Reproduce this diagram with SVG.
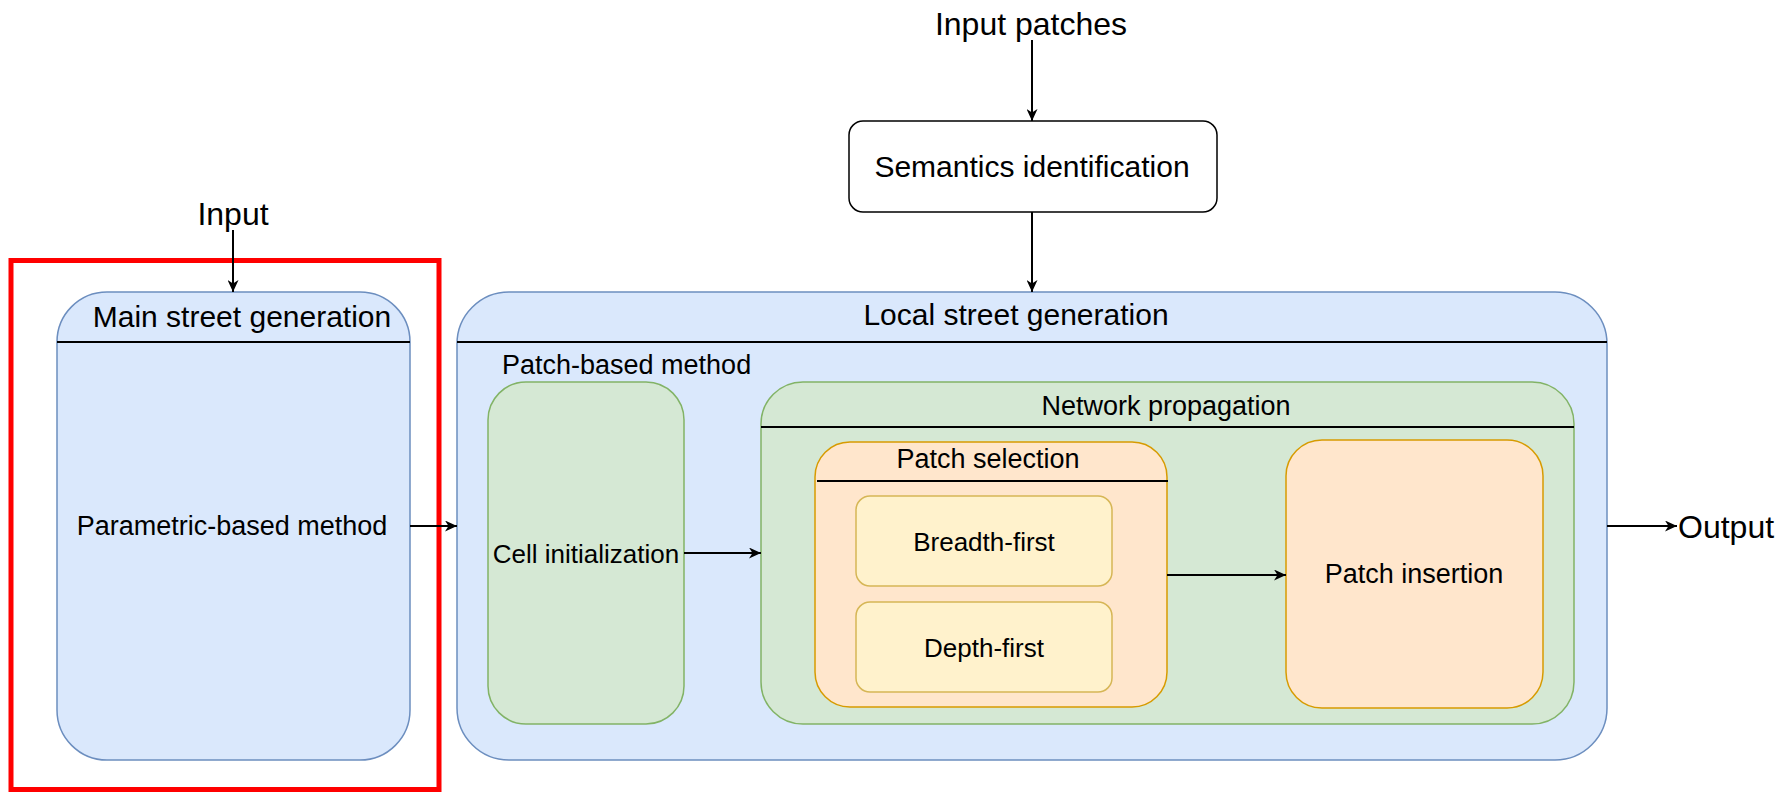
<svg xmlns="http://www.w3.org/2000/svg" width="1790" height="792" viewBox="0 0 1790 792">
<style>
text{font-family:"Liberation Sans",Arial,Helvetica,sans-serif;fill:#000}
.t32{font-size:32px}
.t30{font-size:30px}
.t27{font-size:27px}
.t26{font-size:26px}
.mid{text-anchor:middle}
.blue{fill:#dae8fc;stroke:#6c8ebf;stroke-width:1.5}
.green{fill:#d5e8d4;stroke:#82b366;stroke-width:1.5}
.orange{fill:#ffe6cc;stroke:#d79b00;stroke-width:1.5}
.yellow{fill:#fff2cc;stroke:#d6b656;stroke-width:1.5}
.hdr{stroke:#000;stroke-width:2;fill:none}
.edge{stroke:#000;stroke-width:2;fill:none;marker-end:url(#arr)}
</style>
<defs>
<marker id="arr" markerWidth="13" markerHeight="11" refX="12" refY="5.5" orient="auto" markerUnits="userSpaceOnUse">
<path d="M0,0 L12,5.5 L0,11 L3.5,5.5 z" fill="#000"/>
</marker>
</defs>
<rect width="1790" height="792" fill="#fff"/>

<g id="highlight">
<rect x="11" y="260.5" width="428" height="529" fill="none" stroke="#ff0000" stroke-width="5"/>
</g>

<g id="input-label"><text class="t32 mid" x="233" y="225">Input</text></g>
<g id="input-patches-label"><text class="t32 mid" x="1031" y="35">Input patches</text></g>
<g id="output-label"><text class="t32" x="1678" y="538">Output</text></g>

<g id="semantics">
<rect x="849" y="121" width="368" height="91" rx="14" fill="#fff" stroke="#000" stroke-width="1.5"/>
<text class="t30 mid" x="1032" y="177">Semantics identification</text>
</g>

<g id="main-street">
<rect class="blue" x="57" y="292" width="353" height="468" rx="50"/>
<line class="hdr" x1="57" y1="342" x2="410" y2="342"/>
<text class="t30 mid" x="242" y="327">Main street generation</text>
<text class="t27 mid" x="232" y="535">Parametric-based method</text>
</g>

<g id="local-street">
<rect class="blue" x="457" y="292" width="1150" height="468" rx="52"/>
<line class="hdr" x1="457" y1="342" x2="1607" y2="342"/>
<text class="t30 mid" x="1016" y="325">Local street generation</text>
<text class="t27" x="502" y="374">Patch-based method</text>
</g>

<g id="cell-init">
<rect class="green" x="488" y="382" width="196" height="342" rx="38"/>
<text class="t26 mid" x="586" y="563">Cell initialization</text>
</g>

<g id="network">
<rect class="green" x="761" y="382" width="813" height="342" rx="42"/>
<line class="hdr" x1="761" y1="427" x2="1574" y2="427"/>
<text class="t27 mid" x="1166" y="415">Network propagation</text>
</g>

<g id="patch-selection">
<rect class="orange" x="815" y="442" width="352" height="265" rx="35"/>
<line class="hdr" x1="817" y1="481" x2="1168" y2="481"/>
<text class="t27 mid" x="988" y="468">Patch selection</text>
</g>

<g id="breadth-first">
<rect class="yellow" x="856" y="496" width="256" height="90" rx="14"/>
<text class="t26 mid" x="984" y="551">Breadth-first</text>
</g>

<g id="depth-first">
<rect class="yellow" x="856" y="602" width="256" height="90" rx="14"/>
<text class="t26 mid" x="984" y="657">Depth-first</text>
</g>

<g id="patch-insertion">
<rect class="orange" x="1286" y="440" width="257" height="268" rx="36"/>
<text class="t27 mid" x="1414" y="583">Patch insertion</text>
</g>

<g id="connectors">
<line class="edge" x1="233" y1="230" x2="233" y2="292"/>
<line class="edge" x1="1032" y1="40" x2="1032" y2="121"/>
<line class="edge" x1="1032" y1="212" x2="1032" y2="292"/>
<line class="edge" x1="410" y1="526" x2="457" y2="526"/>
<line class="edge" x1="684" y1="553" x2="761" y2="553"/>
<line class="edge" x1="1167" y1="575" x2="1286" y2="575"/>
<line class="edge" x1="1607" y1="526" x2="1677" y2="526"/>
</g>
</svg>
